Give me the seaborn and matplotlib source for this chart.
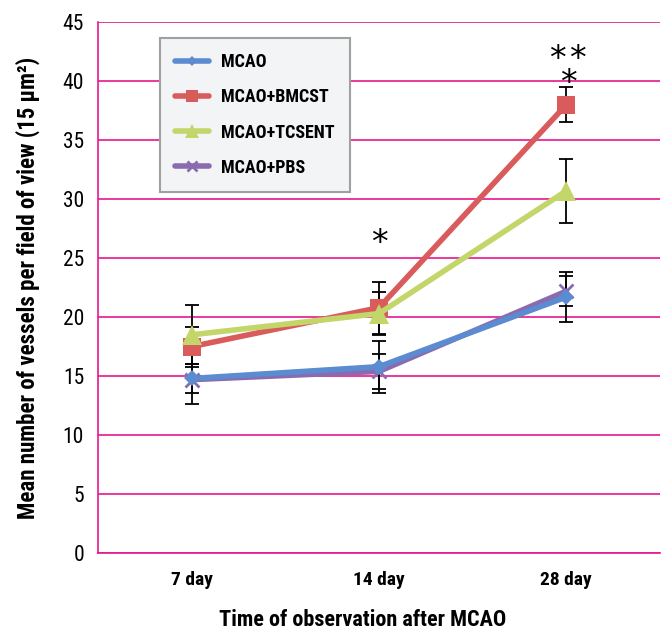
import numpy as np
import pandas as pd
import matplotlib
matplotlib.use("Agg")
import matplotlib.pyplot as plt
from matplotlib import font_manager
import seaborn as sns
from matplotlib.ticker import FixedLocator

days = ["7 day", "14 day", "28 day"]
groups = ["MCAO", "MCAO+BMCST", "MCAO+TCSENT", "MCAO+PBS"]
mcao = [14.8, 15.8, 21.7]
mcao_err = [1.2, 2.2, 2.1]
bmcst = [17.5, 20.8, 38.0]
bmcst_err = [1.7, 2.2, 1.5]
tcsent = [18.5, 20.3, 30.7]
tcsent_err = [2.5, 1.8, 2.7]
pbs = [14.7, 15.4, 22.2]
pbs_err = [2.1, 1.5, 1.3]

colors = {"MCAO": "#5B8BD0", "MCAO+BMCST": "#D95B5B",
          "MCAO+TCSENT": "#C2D66A", "MCAO+PBS": "#8B6BB0"}
markers = {"MCAO": "D", "MCAO+BMCST": "s", "MCAO+TCSENT": "^", "MCAO+PBS": "x"}

vals = {"MCAO": mcao, "MCAO+BMCST": bmcst, "MCAO+TCSENT": tcsent, "MCAO+PBS": pbs}
errs = {"MCAO": mcao_err, "MCAO+BMCST": bmcst_err, "MCAO+TCSENT": tcsent_err, "MCAO+PBS": pbs_err}

rows = []
for g in groups:
    for i, d in enumerate(days):
        rows.append({"group": g, "pos": i, "day": d, "value": vals[g][i], "err": errs[g][i]})
df = pd.DataFrame(rows)

sns.set_style("white")

names = {f.name for f in font_manager.fontManager.ttflist}
fam = None
for cand in ["Liberation Sans Narrow", "Roboto Condensed", "Open Sans Condensed", "Noto Sans Condensed"]:
    if cand in names:
        fam = cand
        break
stretch = "normal"
if fam is None:
    fam = "DejaVu Sans"
    stretch = "condensed"
plt.rcParams["font.family"] = [fam, "DejaVu Sans"]
plt.rcParams["font.stretch"] = stretch
plt.rcParams["text.color"] = "black"
plt.rcParams["axes.labelcolor"] = "black"
plt.rcParams["xtick.color"] = "black"
plt.rcParams["ytick.color"] = "black"

fig = plt.figure(figsize=(6.62, 6.30), dpi=100)
ax = fig.add_axes([0.148, 0.122, 0.849, 0.843])

pink = "#E8168C"

for g in groups:
    sub = df[df.group == g]
    ax.errorbar(sub["pos"], sub["value"], yerr=sub["err"], fmt="none",
                ecolor="black", elinewidth=1.3, capsize=5, capthick=1.3, zorder=2)

zorders = {"MCAO": 6, "MCAO+BMCST": 4, "MCAO+TCSENT": 5, "MCAO+PBS": 3}
sizes = {"MCAO": 8, "MCAO+BMCST": 13, "MCAO+TCSENT": 14, "MCAO+PBS": 10}
for g in groups:
    sub = df[df.group == g]
    sns.lineplot(data=sub, x="pos", y="value", ax=ax, color=colors[g],
                 marker=markers[g], markersize=sizes[g], linewidth=4.0,
                 markeredgewidth=(2.0 if g == "MCAO+PBS" else 0),
                 markeredgecolor=colors[g],
                 label=g, zorder=zorders[g], errorbar=None)

ax.set_xlim(-0.5, 2.5)
ax.set_ylim(0, 45)
ax.set_yticks(np.arange(0, 46, 5))
ax.set_xticks(range(3))
ax.set_xticklabels(days, fontsize=14, fontweight="bold")
ax.xaxis.set_minor_locator(FixedLocator([0.5, 1.5]))
ax.tick_params(axis="x", which="major", length=0, pad=13)
ax.tick_params(axis="x", which="minor", length=6, color=pink, width=1.2, direction="out")
ax.tick_params(axis="y", length=6, color=pink, width=1.2, direction="out", labelsize=15.5, pad=4)
ax.grid(axis="y", color=pink, linewidth=1.2)
ax.set_axisbelow(True)
for s in ["top", "right"]:
    ax.spines[s].set_visible(False)
for s in ["left", "bottom"]:
    ax.spines[s].set_color(pink)
    ax.spines[s].set_linewidth(1.2)

ax.set_xlabel("Time of observation after MCAO", fontsize=16, fontweight="bold", labelpad=14)
ax.xaxis.set_label_coords(0.47, -0.105)
ax.set_ylabel("Mean number of vessels per field of view (15 μm²)", fontsize=16.5,
              fontweight="bold", labelpad=16)

leg = ax.legend(loc="upper left", bbox_to_anchor=(0.110, 0.970), borderaxespad=0,
                frameon=True, fancybox=False, edgecolor="#A0A0A0", facecolor="#F3F4F6",
                framealpha=1, prop={"weight": "bold", "size": 13},
                handlelength=1.9, handletextpad=0.65, borderpad=0.85,
                labelspacing=0.95, markerscale=0.7)
leg.get_frame().set_linewidth(1.5)

star_font = {"family": ["DejaVu Sans"], "fontsize": 24, "stretch": "normal"}
ax.text(1, 26.2, "*", ha="center", va="center", **star_font)
ax.text(1.95, 41.8, "*", ha="center", va="center", **star_font)
ax.text(2.06, 41.8, "*", ha="center", va="center", **star_font)
ax.text(2.01, 39.8, "*", ha="center", va="center", **star_font)

fig.savefig("out.png", dpi=100)
